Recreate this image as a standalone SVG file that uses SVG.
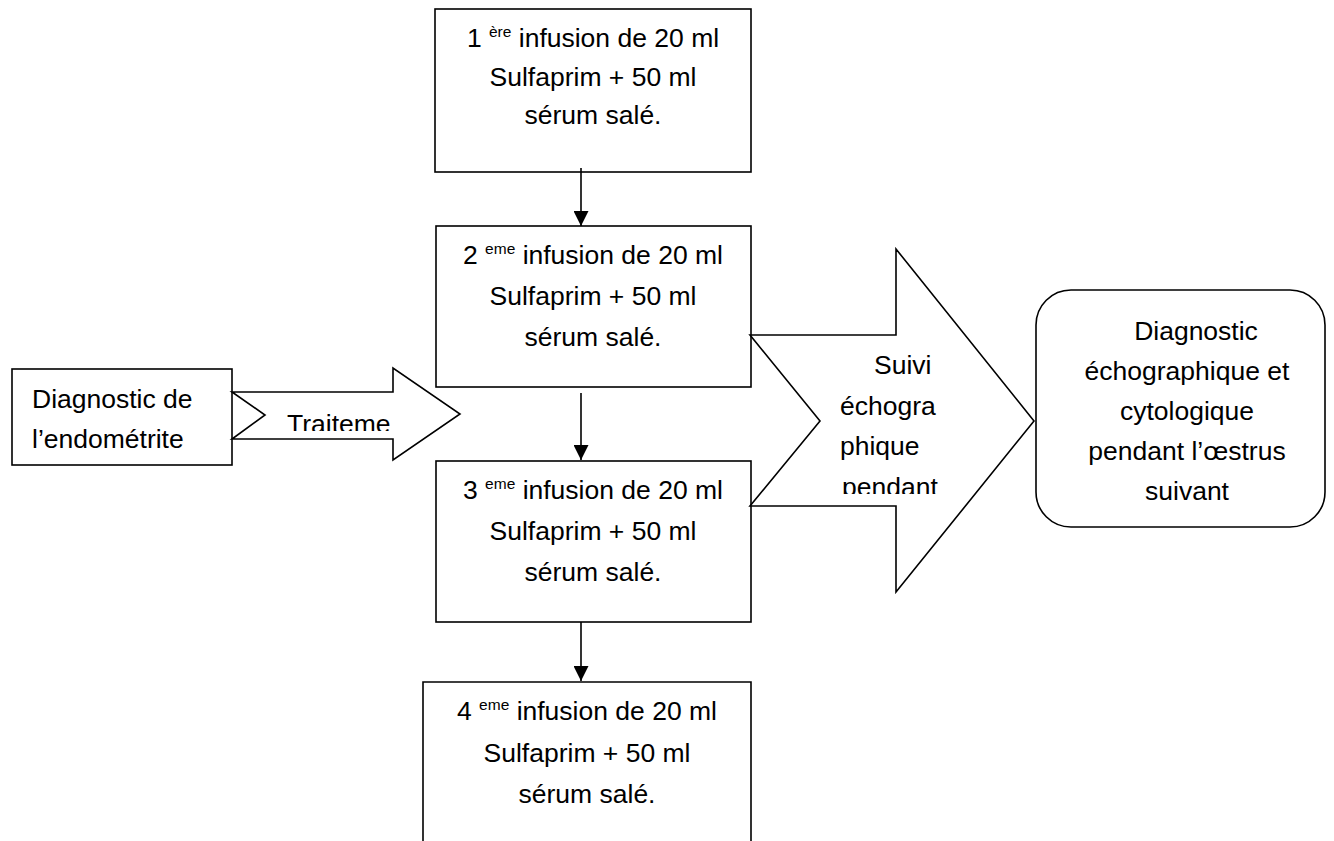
<svg xmlns="http://www.w3.org/2000/svg" width="1334" height="841" viewBox="0 0 1334 841">
<style>
  .box { fill: #ffffff; stroke: #000000; stroke-width: 1.6; }
  .blk { fill: #ffffff; stroke: #000000; stroke-width: 1.6; stroke-linejoin: miter; }
  .t { font-family: "Liberation Sans", Arial, sans-serif; font-size: 26.5px; fill: #000000; }
  .c { text-anchor: middle; }
  .sup { font-size: 15.5px; }
  .conn { stroke: #000000; stroke-width: 1.6; fill: none; }
</style>
<defs>
  <marker id="ah" markerUnits="userSpaceOnUse" markerWidth="15" markerHeight="15" refX="15" refY="7.5" orient="auto">
    <path d="M0,0 L15,7.5 L0,15 Z" fill="#000000"/>
  </marker>
  <clipPath id="clipTrait"><rect x="240" y="395" width="160" height="36"/></clipPath>
  <clipPath id="clipSuivi"><rect x="760" y="340" width="260" height="154"/></clipPath>
</defs>
<rect width="1334" height="841" fill="#ffffff"/>

<g id="diagnostic-endometrite">
  <rect class="box" x="12" y="369" width="220" height="96"/>
  <text class="t" x="32" y="408">Diagnostic de</text>
  <text class="t" x="32" y="448">l’endométrite</text>
</g>

<g id="traitement-arrow">
  <path class="blk" d="M232,392 L393,392 L393,368 L460,414 L393,460 L393,439 L232,439 L265,415 Z"/>
  <text class="t" x="287" y="433" clip-path="url(#clipTrait)">Traiteme</text>
</g>

<g id="infusion-1">
  <rect class="box" x="435" y="9" width="316" height="163"/>
  <text class="t c" x="593" y="47">1 <tspan class="sup" dy="-10">ère</tspan><tspan dy="10"> infusion de 20 ml</tspan></text>
  <text class="t c" x="593" y="86">Sulfaprim + 50 ml</text>
  <text class="t c" x="593" y="124">sérum salé.</text>
</g>

<g id="infusion-2">
  <rect class="box" x="436" y="226" width="315" height="161"/>
  <text class="t c" x="593" y="264">2 <tspan class="sup" dy="-10">eme</tspan><tspan dy="10"> infusion de 20 ml</tspan></text>
  <text class="t c" x="593" y="305">Sulfaprim + 50 ml</text>
  <text class="t c" x="593" y="346">sérum salé.</text>
</g>

<g id="infusion-3">
  <rect class="box" x="436" y="461" width="315" height="161"/>
  <text class="t c" x="593" y="499">3 <tspan class="sup" dy="-10">eme</tspan><tspan dy="10"> infusion de 20 ml</tspan></text>
  <text class="t c" x="593" y="540">Sulfaprim + 50 ml</text>
  <text class="t c" x="593" y="581">sérum salé.</text>
</g>

<g id="infusion-4">
  <path class="box" d="M423,845 L423,682 L751,682 L751,845"/>
  <text class="t c" x="587" y="720">4 <tspan class="sup" dy="-10">eme</tspan><tspan dy="10"> infusion de 20 ml</tspan></text>
  <text class="t c" x="587" y="762">Sulfaprim + 50 ml</text>
  <text class="t c" x="587" y="803">sérum salé.</text>
</g>

<g id="suivi-arrow">
  <path class="blk" d="M750,335 L896,335 L896,249 L1034,421 L896,592 L896,506 L750,506 L820,421 Z"/>
  <g clip-path="url(#clipSuivi)">
    <text class="t" x="874" y="374">Suivi</text>
    <text class="t" x="840" y="415">échogra</text>
    <text class="t" x="840" y="455">phique</text>
    <text class="t" x="842" y="496">pendant</text>
  </g>
</g>

<g id="diagnostic-suivant">
  <rect class="box" x="1036" y="290" width="289" height="237" rx="35" ry="35"/>
  <text class="t c" x="1196" y="340">Diagnostic</text>
  <text class="t c" x="1187" y="380">échographique et</text>
  <text class="t c" x="1187" y="420">cytologique</text>
  <text class="t c" x="1187" y="460">pendant l’œstrus</text>
  <text class="t c" x="1187" y="500">suivant</text>
</g>

<g id="connectors">
  <line class="conn" x1="581" y1="168" x2="581" y2="226" marker-end="url(#ah)"/>
  <line class="conn" x1="581" y1="393" x2="581" y2="460" marker-end="url(#ah)"/>
  <line class="conn" x1="581" y1="622" x2="581" y2="681" marker-end="url(#ah)"/>
</g>
</svg>
